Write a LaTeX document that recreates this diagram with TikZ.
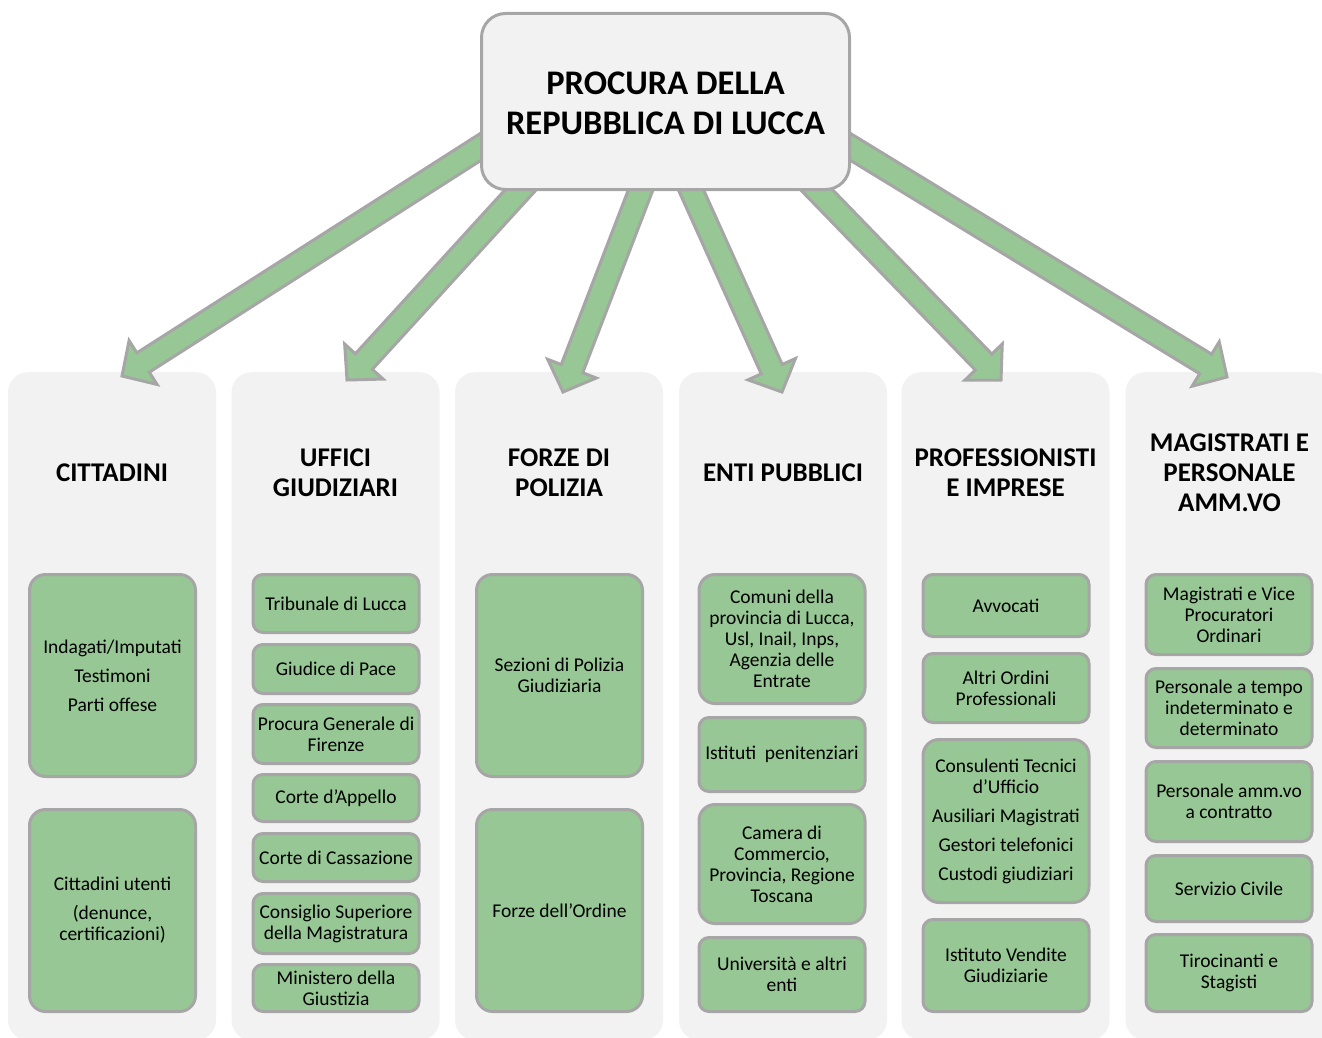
\documentclass[tikz,border=0pt]{standalone}
\usepackage{fontspec}
\setmainfont{Carlito}
\usetikzlibrary{calc,positioning}
\definecolor{lanegray}{RGB}{242,242,242}
\definecolor{leafgreen}{RGB}{151,199,148}
\definecolor{rimgray}{RGB}{166,166,166}

\newcommand{\blockarrow}[2]{%
  \path ($(#2)!25pt!(#1)$) coordinate (h);
  \filldraw[bigarrow] ($(#1)!11.5pt!90:(#2)$) -- ($(h)!11.5pt!-90:(#1)$)
    -- ($(h)!26pt!-90:(#1)$) -- (#2) -- ($(h)!26pt!90:(#1)$)
    -- ($(h)!11.5pt!90:(#1)$) -- ($(#1)!11.5pt!-90:(#2)$) -- cycle;}

\begin{document}
\begin{tikzpicture}[x=1pt,y=-1pt,
  lane/.style={fill=lanegray, rounded corners=20pt, minimum width=208pt, minimum height=668pt, anchor=north, inner sep=0pt},
  heading/.style={align=center, font=\fontsize{27}{30}\selectfont\bfseries},
  leafbox/.style={fill=leafgreen, draw=rimgray, line width=3pt, rounded corners=10pt, minimum width=166pt, align=center, inner sep=1pt, font=\fontsize{19.5}{21}\selectfont},
  tall/.style={rounded corners=16pt},
  bigarrow/.style={fill=leafgreen, draw=rimgray, line width=3pt},
  root/.style={fill=lanegray, draw=rimgray, line width=3pt, rounded corners=24pt, minimum width=368pt, minimum height=176pt, align=center, font=\fontsize{34.5}{40}\selectfont\bfseries}]
  \useasboundingbox (0,0) rectangle (1322,1038);

  \node[lane] (col1) at (112,372) {};
  \node[lane] (col2) at (335.5,372) {};
  \node[lane] (col3) at (559,372) {};
  \node[lane] (col4) at (783,372) {};
  \node[lane] (col5) at (1005.5,372) {};
  \node[lane] (col6) at (1229.5,372) {};

  \node[heading] (cittadini) at ($(col1.north)+(0,101)$) {CITTADINI};
  \node[heading] (uffici) at ($(col2.north)+(0,101)$) {UFFICI\\GIUDIZIARI};
  \node[heading] (forze) at ($(col3.north)+(0,101)$) {FORZE DI\\POLIZIA};
  \node[heading] (enti) at ($(col4.north)+(0,101)$) {ENTI PUBBLICI};
  \node[heading] (professionisti) at ($(col5.north)+(0,101)$) {PROFESSIONISTI\\E IMPRESE};
  \node[heading] (magistrati) at ($(col6.north)+(0,101)$) {MAGISTRATI E\\PERSONALE\\AMM.VO};

  \coordinate (procura-c) at (665.5,101.5);
  \coordinate (s1) at ($(procura-c)+(-125.5,7.5)$);
  \coordinate (s2) at ($(procura-c)+(-108.5,48.5)$);
  \coordinate (s3) at ($(procura-c)+(-9.5,48.5)$);
  \coordinate (s4) at ($(procura-c)+(7.5,48.5)$);
  \coordinate (s5) at ($(procura-c)+(112.5,48.5)$);
  \coordinate (s6) at ($(procura-c)+(124.5,8.5)$);
  \coordinate (t1) at ($(col1.north)+(10,4)$);
  \coordinate (t2) at ($(col2.north)+(11.5,8)$);
  \coordinate (t3) at ($(col3.north)+(4,20)$);
  \coordinate (t4) at ($(col4.north)+(-1,20)$);
  \coordinate (t5) at ($(col5.north)+(-4.5,8)$);
  \coordinate (t6) at ($(col6.north)+(-2.5,5)$);
  \foreach \i in {1,...,6} {\blockarrow{s\i}{t\i}}

  \node[root] (procura) at (procura-c) {\raisebox{-5pt}[\height][\depth]{\begin{tabular}{@{}c@{}}PROCURA DELLA\\REPUBBLICA DI LUCCA\end{tabular}}};

  \node[leafbox, tall, minimum height=202pt] (imputati) at (112.5,675.5) {Indagati/Imputati\\[8pt]Testimoni\\[8pt]Parti offese};
  \node[leafbox, tall, minimum height=202pt] (utenti) at (112.5,910.5) {Cittadini utenti\\[8pt](denunce,\\certificazioni)};

  \node[leafbox, minimum height=58pt] (tribunale) at (336,603.5) {Tribunale di Lucca};
  \node[leafbox, minimum height=49pt] (pace) at (336,669) {Giudice di Pace};
  \node[leafbox, minimum height=59pt] (pgfirenze) at (336,734) {Procura Generale di\\Firenze};
  \node[leafbox, minimum height=47pt] (appello) at (336,798) {Corte d’Appello};
  \node[leafbox, minimum height=48pt] (cassazione) at (336,857.5) {Corte di Cassazione};
  \node[leafbox, minimum height=60pt] (csm) at (336,923.5) {Consiglio Superiore\\della Magistratura};
  \node[leafbox, minimum height=47pt] (ministero) at (336,988) {Ministero della\\Giustizia};

  \node[leafbox, tall, minimum height=202pt] (sezioni) at (559.5,675.5) {Sezioni di Polizia\\Giudiziaria};
  \node[leafbox, tall, minimum height=202pt] (ordine) at (559.5,910.5) {Forze dell’Ordine};

  \node[leafbox, tall, minimum height=129pt] (comuni) at (782,639) {Comuni della\\provincia di Lucca,\\Usl, Inail, Inps,\\Agenzia delle\\Entrate};
  \node[leafbox, minimum height=74pt] (istituti) at (782,754.5) {Istituti~ penitenziari};
  \node[leafbox, tall, minimum height=119pt] (camera) at (782,864) {Camera di\\Commercio,\\Provincia, Regione\\Toscana};
  \node[leafbox, minimum height=74pt] (universita) at (782,974.5) {Università e altri\\enti};

  \node[leafbox, minimum height=62pt] (avvocati) at (1006,605.5) {Avvocati};
  \node[leafbox, minimum height=69pt] (ordini) at (1006,688) {Altri Ordini\\Professionali};
  \node[leafbox, tall, minimum height=163pt] (consulenti) at (1006,821) {Consulenti Tecnici\\d’Ufficio\\[8pt]Ausiliari Magistrati\\[8pt]Gestori telefonici\\[8pt]Custodi giudiziari};
  \node[leafbox, minimum height=92pt] (vendite) at (1006,965.5) {Istituto Vendite\\Giudiziarie};

  \node[leafbox, minimum height=80pt] (vpo) at (1229,614.5) {Magistrati e Vice\\Procuratori\\Ordinari};
  \node[leafbox, minimum height=79pt] (tempo) at (1229,708) {Personale a tempo\\indeterminato e\\determinato};
  \node[leafbox, minimum height=80pt] (contratto) at (1229,801.5) {Personale amm.vo\\a contratto};
  \node[leafbox, minimum height=66pt] (servizio) at (1229,888.5) {Servizio Civile};
  \node[leafbox, minimum height=77pt] (tirocinanti) at (1229,973) {Tirocinanti e\\Stagisti};
\end{tikzpicture}
\end{document}
